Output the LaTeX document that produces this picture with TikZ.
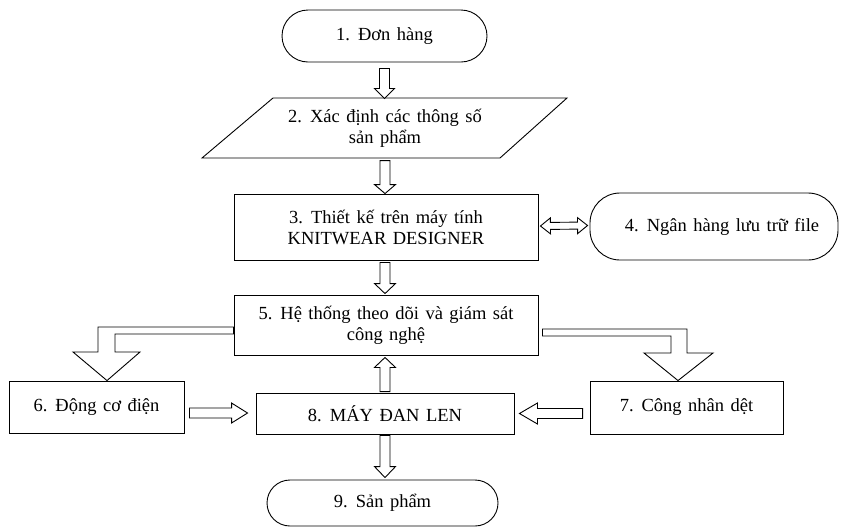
\documentclass[tikz,border=0pt]{standalone}
\usepackage{fontspec}
\setmainfont[WordSpace=1.4]{Liberation Serif}
\usetikzlibrary{calc}
\tikzset{
  box/.style={draw, line width=0.9pt, align=center, inner sep=2pt,
    font=\fontsize{18.5}{21}\selectfont},
  stadium/.style={box, rounded corners=#1},
  blk/.style={draw, line width=0.9pt, fill=white, line join=miter},
}
% single-headed block arrow: #1 start, #2 tip, #3 shaft half, #4 head half, #5 head length
\newcommand\blockarrow[5]{%
  \path ($(#2)!#5!(#1)$) coordinate (hb);
  \draw[blk] ($(#1)!#3!90:(#2)$) -- ($(hb)!#3!90:(#2)$) -- ($(hb)!#4!90:(#2)$)
    -- (#2) -- ($(hb)!#4!-90:(#2)$) -- ($(hb)!#3!-90:(#2)$)
    -- ($(#1)!#3!-90:(#2)$) -- cycle;}
% double-headed block arrow
\newcommand\dblockarrow[5]{%
  \path ($(#1)!#5!(#2)$) coordinate (ha) ($(#2)!#5!(#1)$) coordinate (hb);
  \draw[blk] (#1) -- ($(ha)!#4!90:(#2)$) -- ($(ha)!#3!90:(#2)$)
    -- ($(hb)!#3!-90:(#1)$) -- ($(hb)!#4!-90:(#1)$) -- (#2)
    -- ($(hb)!#4!90:(#1)$) -- ($(hb)!#3!90:(#1)$)
    -- ($(ha)!#3!-90:(#2)$) -- ($(ha)!#4!-90:(#2)$) -- cycle;}
\begin{document}
\begin{tikzpicture}[x=1pt,y=-1pt]
\useasboundingbox (0,0) rectangle (850,528);
% nodes
\node[stadium=26pt, minimum width=205pt, minimum height=52pt] (n1) at (384.5,36) {1. Đơn hàng};
\node[box, draw=none, minimum width=296pt, minimum height=60pt] (n2) at (385,128) {2. Xác định các thông số\\sản phẩm};
\draw[line width=0.9pt] ($(n2)+(-112,-30)$) coordinate (p1) -- ($(n2)+(182,-30)$) coordinate (p2)
  -- ($(n2)+(115,30)$) coordinate (p3) -- ($(n2)+(-183,30)$) coordinate (p4) -- cycle;
\node[box, minimum width=304pt, minimum height=66pt] (n3) at (386,227) {3. Thiết kế trên máy tính\\KNITWEAR DESIGNER};
\node[stadium=30pt, minimum width=248pt, minimum height=67pt] (n4) at (714,226.5) {\hspace{16pt}4. Ngân hàng lưu trữ file};
\node[box, minimum width=304pt, minimum height=60pt] (n5) at (386,325) {5. Hệ thống theo dõi và giám sát\\công nghệ};
\node[box, minimum width=175pt, minimum height=52pt] (n6) at (96.5,407) {6. Động cơ điện};
\node[box, minimum width=193pt, minimum height=53pt] (n7) at (686.5,407.5) {7. Công nhân dệt};
\node[box, minimum width=258pt, minimum height=41pt] (n8) at (385,413.5) {8. MÁY ĐAN LEN};
\node[stadium=23pt, minimum width=231pt, minimum height=46pt] (n9) at (382.5,503) {9. Sản phẩm};
% connectors
\coordinate (a1s) at ($(n1.south)+(0,6)$);
\coordinate (a1e) at ($(n1.south)+(0,36)$);
\blockarrow{a1s}{a1e}{5pt}{10pt}{10pt}
\coordinate (a2s) at ($(n3.north)+(-1,-33)$);
\coordinate (a2e) at ($(n3.north)+(-1,0)$);
\blockarrow{a2s}{a2e}{5pt}{10.5pt}{9pt}
\coordinate (a3s) at ($(n3.south)+(-1,2)$);
\coordinate (a3e) at ($(n5.north)+(-1,-1)$);
\blockarrow{a3s}{a3e}{5pt}{10.5pt}{10pt}
\coordinate (a4s) at ($(n3.east)+(2,-1)$);
\coordinate (a4e) at ($(n4.west)+(-2,-1)$);
\dblockarrow{a4s}{a4e}{3.5pt}{8pt}{10pt}
\coordinate (a5s) at ($(n8.north)+(0,-1)$);
\coordinate (a5e) at ($(n8.north |- n5.south)+(0,2)$);
\blockarrow{a5s}{a5e}{5pt}{10.5pt}{10pt}
\coordinate (a6s) at ($(n8.south)+(0,1)$);
\coordinate (a6e) at ($(n8.south |- n9.north)+(0,-2)$);
\blockarrow{a6s}{a6e}{5pt}{10.5pt}{11pt}
\coordinate (a7s) at ($(n6.east)+(5,6)$);
\coordinate (a7e) at ($(n8.west |- a7s)+(-8,0)$);
\blockarrow{a7s}{a7e}{5pt}{10pt}{16pt}
\coordinate (a8s) at ($(n7.west)+(-7,6)$);
\coordinate (a8e) at ($(n8.east |- a8s)+(5,0)$);
\blockarrow{a8s}{a8e}{5pt}{10.5pt}{18pt}
% bent arrows
\draw[blk] ($(n5.west)+(0,2)$) -- (98,327) -- (98,352) -- (73,352)
  -- ($(n6.north)+(10.5,0)$) -- (140,352) -- (115,352) -- (115,334)
  -- ($(n5.west)+(0,9)$) -- cycle;
\draw[blk] ($(n5.east)+(4,4)$) -- (687,329) -- (687,353) -- (713,353)
  -- ($(n7.north)+(-8.5,0)$) -- (644,353) -- (671,353) -- (671,336)
  -- ($(n5.east)+(4,11)$) -- cycle;
\end{tikzpicture}
\end{document}
